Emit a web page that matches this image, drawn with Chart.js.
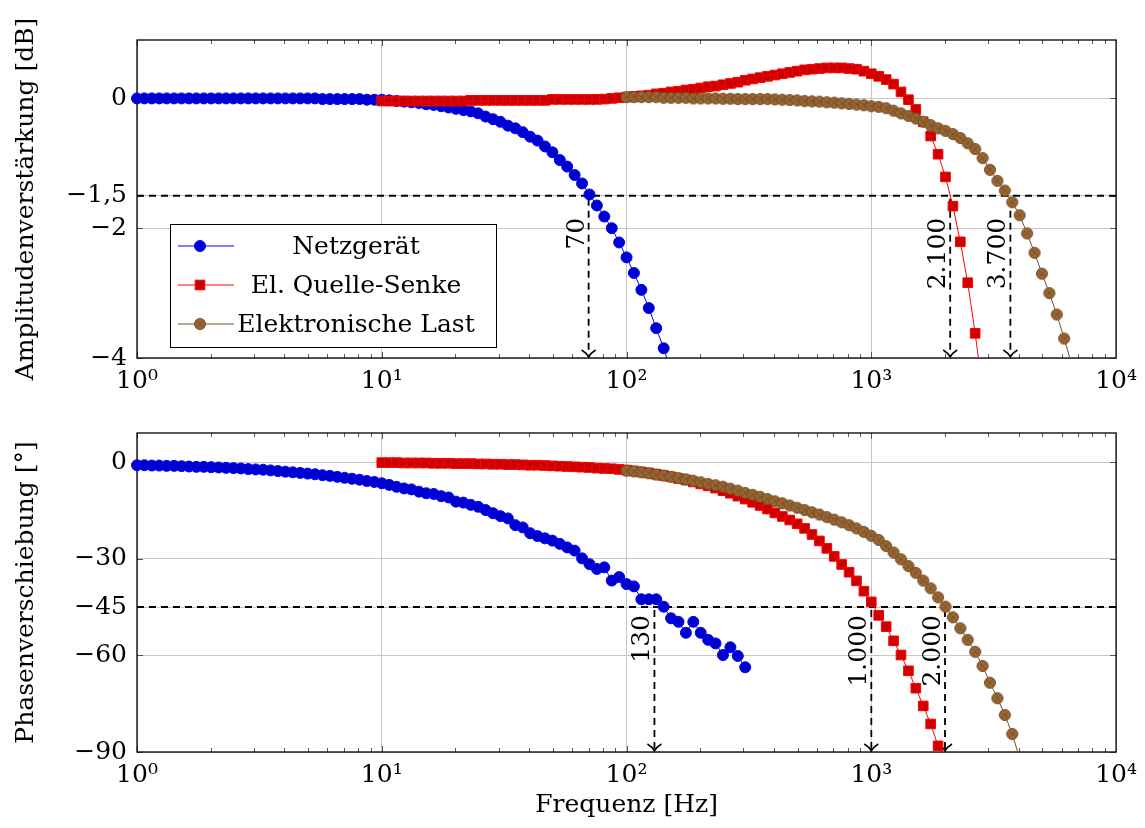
<!DOCTYPE html>
<html>
<head>
<meta charset="utf-8">
<script src="https://cdn.jsdelivr.net/npm/chart.js@4.4.1/dist/chart.umd.min.js"></script>
<style>
html, body { margin: 0; padding: 0; background: #fff; }
#wrap { position: relative; width: 1145px; height: 828px; }
canvas { position: absolute; left: 0; top: 0; }
</style>
</head>
<body>
<div id="wrap">
  <canvas id="amp" width="1145" height="828"></canvas>
  <canvas id="phase" width="1145" height="828"></canvas>
</div>
<script>
// frequencies [Hz]
const blueFreq = [1.000, 1.072, 1.150, 1.233, 1.322, 1.418, 1.520, 1.630, 1.748, 1.874, 2.009, 2.155, 2.310, 2.477, 2.656, 2.848, 3.054, 3.275, 3.512, 3.765, 4.038, 4.329, 4.642, 4.978, 5.338, 5.723, 6.137, 6.581, 7.056, 7.566, 8.113, 8.699, 9.328,
  10.00, 10.72, 11.50, 12.33, 13.22, 14.18, 15.20, 16.30, 17.48, 18.74, 20.09, 21.55, 23.10, 24.77, 26.56, 28.48, 30.54, 32.75, 35.12, 37.65, 40.38, 43.29, 46.42, 49.78, 53.38, 57.23, 61.37, 65.81, 70.56, 75.66, 81.13, 86.99, 93.28,
  100.0, 107.2, 115.0, 123.3, 132.2, 141.8, 152.0, 163.0, 174.8, 187.4, 200.9, 215.5, 231.0, 247.7, 265.6, 284.8, 305.4];
const redFreq = [10.00, 10.72, 11.50, 12.33, 13.22, 14.18, 15.20, 16.30, 17.48, 18.74, 20.09, 21.55, 23.10, 24.77, 26.56, 28.48, 30.54, 32.75, 35.12, 37.65, 40.38, 43.29, 46.42, 49.78, 53.38, 57.23, 61.37, 65.81, 70.56, 75.66, 81.13, 86.99, 93.28,
  100.0, 107.2, 115.0, 123.3, 132.2, 141.8, 152.0, 163.0, 174.8, 187.4, 200.9, 215.5, 231.0, 247.7, 265.6, 284.8, 305.4, 327.5, 351.2, 376.5, 403.8, 432.9, 464.2, 497.8, 533.8, 572.3, 613.7, 658.1, 705.6, 756.6, 811.3, 869.9, 932.8,
  1000, 1072, 1150, 1233, 1322, 1418, 1520, 1630, 1748, 1874, 2009, 2155, 2310, 2477, 2656, 2848];
const brownFreq = [100.0, 107.2, 115.0, 123.3, 132.2, 141.8, 152.0, 163.0, 174.8, 187.4, 200.9, 215.5, 231.0, 247.7, 265.6, 284.8, 305.4, 327.5, 351.2, 376.5, 403.8, 432.9, 464.2, 497.8, 533.8, 572.3, 613.7, 658.1, 705.6, 756.6, 811.3, 869.9, 932.8,
  1000, 1072, 1150, 1233, 1322, 1418, 1520, 1630, 1748, 1874, 2009, 2155, 2310, 2477, 2656, 2848, 3054, 3275, 3512, 3765, 4038, 4329, 4642, 4978, 5338, 5723, 6137, 6581];

// Amplitudenverstärkung [dB]
const blueAmp = [0, 0, 0, 0, 0, 0, 0, 0, 0, 0, 0, 0, 0, 0, 0, 0, 0, 0, 0, 0, 0,
  0, 0, 0, 0, -0.01, -0.01, -0.01, -0.01, -0.01, -0.01, -0.02, -0.02,
  -0.02, -0.03, -0.04, -0.05, -0.06, -0.07, -0.09, -0.10, -0.12, -0.14, -0.16, -0.18, -0.20,
  -0.23, -0.28, -0.32, -0.36, -0.42, -0.46, -0.52, -0.59, -0.65, -0.74, -0.83, -0.95, -1.05, -1.18, -1.31, -1.48, -1.65, -1.82, -2.00, -2.22, -2.45, -2.69, -2.95, -3.23, -3.54, -3.85, -4.20];
const redAmp = [-0.04, -0.04, -0.04, -0.04, -0.04, -0.04, -0.04, -0.04, -0.04, -0.04, -0.04, -0.04,
  -0.03, -0.03, -0.03, -0.03, -0.03, -0.03, -0.03, -0.03, -0.03, -0.03, -0.03,
  -0.015, -0.015, -0.015, -0.015, -0.015, -0.015, -0.015, -0.01, 0.0, 0.01,
  0.02, 0.03, 0.04, 0.05, 0.07, 0.08, 0.10, 0.11, 0.13, 0.14, 0.16, 0.18, 0.19, 0.21, 0.23, 0.25, 0.28, 0.30, 0.32, 0.34, 0.36, 0.38, 0.40, 0.42, 0.44, 0.45, 0.46, 0.47, 0.47, 0.47, 0.46, 0.45, 0.42,
  0.38, 0.34, 0.29, 0.22, 0.10, -0.02, -0.17, -0.36, -0.58, -0.86, -1.21, -1.66, -2.21, -2.84, -3.62, -4.50];
const brownAmp = [0.02, 0.02, 0.02, 0.02, 0.02, 0.01, 0.01, 0.01, 0.01, 0.0, 0.0, 0.0,
  0.0, -0.005, -0.005, -0.01, -0.01, -0.01, -0.01, -0.01,
  -0.015, -0.02, -0.025, -0.03, -0.04, -0.045, -0.05, -0.06, -0.065, -0.075, -0.085, -0.095, -0.105,
  -0.12, -0.13, -0.15, -0.19, -0.23, -0.27, -0.31, -0.36, -0.41, -0.46, -0.50, -0.55, -0.61, -0.69, -0.78, -0.92, -1.10, -1.27, -1.42, -1.60, -1.80, -2.08, -2.38, -2.70, -3.00, -3.33, -3.70, -4.10];

// Phasenverschiebung [°]
const bluePhase = [-1.0, -1.0, -1.1, -1.1, -1.2, -1.2, -1.3, -1.4, -1.5, -1.5, -1.6, -1.7, -1.8, -1.9, -2.0, -2.2, -2.3, -2.4, -2.6, -2.8, -3.0, -3.2, -3.4, -3.6, -3.8, -4.1, -4.3, -4.6, -4.9, -5.2, -5.5, -5.9, -6.2,
  -6.6, -7.1, -7.7, -8.2, -8.5, -9.2, -9.7, -9.9, -10.6, -11.0, -12.3, -12.6, -13.3, -13.9, -14.9, -15.9, -16.8, -17.5, -19.6, -20.3, -22.1, -23.0, -23.7, -24.4, -25.4, -26.5, -27.5, -29.9, -31.7, -33.2, -32.7,
  -36.8, -35.7, -37.9, -38.6, -42.6, -42.6, -42.6, -44.9, -48.5, -49.6, -53.0, -49.6, -53.0, -55.2, -56.3, -59.9, -57.5, -60.2, -63.7];
const redPhase = [-0.2, -0.2, -0.2, -0.3, -0.3, -0.3, -0.3, -0.4, -0.4, -0.4, -0.5, -0.5, -0.5, -0.6, -0.6, -0.7, -0.7, -0.8, -0.8, -0.9, -1.0, -1.0, -1.1, -1.2, -1.3, -1.4, -1.5, -1.6, -1.7, -1.9, -2.0, -2.1, -2.3,
  -2.5, -2.8, -3.1, -3.4, -3.8, -4.2, -4.6, -5.1, -5.6, -6.2, -6.8, -7.4, -8.1, -8.9, -9.7, -10.6, -11.5, -12.5, -13.5, -14.6, -15.8, -16.9, -18.0, -19.2, -20.6, -22.5, -24.5, -26.8, -29.3, -31.8, -34.2, -36.9, -40.1,
  -43.4, -47.6, -51.1, -55.5, -59.9, -64.8, -70.2, -75.7, -81.3, -88.1, -95.0];
const brownPhase = [-2.7, -2.9, -3.2, -3.5, -3.9, -4.2, -4.6, -5.0, -5.4, -5.8, -6.3, -6.8, -7.2, -7.7, -8.3, -8.9, -9.6, -10.2, -10.8, -11.5, -12.2, -12.8, -13.5, -14.2, -14.9, -15.6, -16.3, -17.1, -17.9, -18.7, -19.6, -20.6, -21.7,
  -22.9, -24.2, -26.1, -28.1, -30.2, -32.3, -34.4, -36.8, -39.2, -42.0, -44.9, -48.2, -51.6, -55.2, -58.9, -63.3, -68.5, -73.3, -78.5, -84.4, -92.0];

const seriesNames = ['Netzgerät', 'El. Quelle-Senke', 'Elektronische Last'];

// axes
const xTicks = [1, 10, 100, 1000, 10000];
const xTickLabels = ['10⁰', '10¹', '10²', '10³', '10⁴'];
const ampTicks = [-4, -2, -1.5, 0];
const ampTickLabels = ['−4', '−2', '−1,5', '0'];
const phaseTicks = [-90, -60, -45, -30, 0];
const phaseTickLabels = ['−90', '−60', '−45', '−30', '0'];

// markierte Grenzfrequenzen
const ampLevel = -1.5;
const ampCutoffs = [70, 2100, 3700];
const ampCutoffLabels = ['70', '2.100', '3.700'];
const phaseLevel = -45;
const phaseCutoffs = [130, 1000, 2000];
const phaseCutoffLabels = ['130', '1.000', '2.000'];

const FONT = '"DejaVu Serif", serif';
Chart.defaults.font.family = FONT;
Chart.defaults.font.size = 25;
Chart.defaults.color = '#000';

const gridColor = '#c6c6c6';
const blueLine = '#0000ff', blueFill = '#0000cc';
const redLine = '#ff0000', redFill = '#cc0000';
const brownLine = '#734d26', brownFill = '#996633';

function makeOtimes(r, fill, stroke) {
    const c = document.createElement('canvas');
    const s = 2 * r + 3;
    c.width = s; c.height = s;
    const g = c.getContext('2d');
    const m = s / 2;
    g.beginPath();
    g.arc(m, m, r, 0, 2 * Math.PI);
    g.fillStyle = fill;
    g.fill();
    g.lineWidth = 1;
    g.strokeStyle = stroke;
    g.stroke();
    const d = r * Math.SQRT1_2;
    g.beginPath();
    g.moveTo(m - d, m - d); g.lineTo(m + d, m + d);
    g.moveTo(m + d, m - d); g.lineTo(m - d, m + d);
    g.lineWidth = 0.8;
    g.stroke();
    return c;
}
const brownMark = makeOtimes(5.5, brownFill, brownLine);

const pts = (fs, vs) => vs.map((v, i) => ({ x: fs[i], y: v }));
const vClip = { left: false, right: false, top: 0, bottom: 0 };

function makeDatasets(blue, red, brown) {
    return [
        { label: seriesNames[0], data: pts(blueFreq, blue), borderColor: blueLine, borderWidth: 1,
          pointStyle: 'circle', pointRadius: 5.5, pointBackgroundColor: blueFill, pointBorderColor: blueLine,
          pointBorderWidth: 1, clip: vClip, order: 3 },
        { label: seriesNames[1], data: pts(redFreq, red), borderColor: redLine, borderWidth: 1,
          pointStyle: 'rect', pointRadius: 6.8, pointBackgroundColor: redFill, pointBorderColor: redLine,
          pointBorderWidth: 1, clip: vClip, order: 2 },
        { label: seriesNames[2], data: pts(brownFreq, brown), borderColor: brownLine, borderWidth: 1,
          pointStyle: brownMark, pointRadius: 5.5, clip: vClip, order: 1 }
    ];
}

function xScale(title, height) {
    return {
        type: 'logarithmic', min: 1, max: 10000,
        afterBuildTicks: s => { s.ticks = xTicks.map(v => ({ value: v })); },
        afterFit: s => { s.height = height; },
        ticks: { autoSkip: false, maxRotation: 0, padding: 8, callback: (v, i) => xTickLabels[i] },
        grid: { color: gridColor, lineWidth: 1, drawTicks: false },
        border: { display: false },
        title: { display: !!title, text: title || '', padding: { top: 0, bottom: 8 } }
    };
}

function yScale(min, max, ticks, labels, title) {
    return {
        type: 'linear', min: min, max: max,
        afterBuildTicks: s => { s.ticks = ticks.map(v => ({ value: v })); },
        afterFit: s => { s.width = 137; },
        ticks: { padding: 10, callback: (v, i) => labels[i] },
        grid: { color: gridColor, lineWidth: 1, drawTicks: false },
        border: { display: false },
        title: { display: true, text: title, padding: { top: 11, bottom: 0 } }
    };
}

// Rahmen und Teilstriche wie bei pgfplots
const axisFrame = {
    id: 'axisFrame',
    beforeDatasetsDraw(chart) {
        const { ctx, chartArea: a, scales: { x, y } } = chart;
        ctx.save();
        ctx.strokeStyle = '#555';
        ctx.lineWidth = 1;
        ctx.beginPath();
        for (let d = 1; d < 10000; d *= 10) {
            for (let m = 1; m < 10; m++) {
                const px = Math.round(x.getPixelForValue(d * m)) + 0.5;
                const len = m === 1 ? 6 : 4;
                ctx.moveTo(px, a.bottom); ctx.lineTo(px, a.bottom - len);
                ctx.moveTo(px, a.top); ctx.lineTo(px, a.top + len);
            }
        }
        y.ticks.forEach(t => {
            const py = Math.round(y.getPixelForValue(t.value)) + 0.5;
            ctx.moveTo(a.left, py); ctx.lineTo(a.left + 6, py);
            ctx.moveTo(a.right, py); ctx.lineTo(a.right - 6, py);
        });
        ctx.stroke();
        ctx.strokeStyle = '#000';
        ctx.lineWidth = 1.3;
        ctx.strokeRect(a.left, a.top, a.right - a.left, a.bottom - a.top);
        ctx.restore();
    }
};

// gestrichelte Hilfslinien mit Frequenzangabe
const refLines = {
    id: 'refLines',
    beforeDatasetsDraw(chart, args, o) {
        if (!o || !o.freqs) return;
        const { ctx, chartArea: a, scales: { x, y } } = chart;
        const py = y.getPixelForValue(o.level);
        ctx.save();
        ctx.strokeStyle = '#000';
        ctx.lineWidth = 1.8;
        ctx.setLineDash([7, 5]);
        ctx.beginPath();
        ctx.moveTo(a.left, py); ctx.lineTo(a.right, py);
        ctx.stroke();
        o.freqs.forEach((f, i) => {
            const px = x.getPixelForValue(f);
            ctx.setLineDash([7, 5]);
            ctx.lineWidth = 1.8;
            ctx.beginPath();
            ctx.moveTo(px, py + 3); ctx.lineTo(px, a.bottom - 2);
            ctx.stroke();
            ctx.setLineDash([]);
            ctx.lineWidth = 1.5;
            ctx.beginPath();
            ctx.moveTo(px - 7, a.bottom - 8);
            ctx.quadraticCurveTo(px - 2, a.bottom - 5, px, a.bottom - 1);
            ctx.quadraticCurveTo(px + 2, a.bottom - 5, px + 7, a.bottom - 8);
            ctx.stroke();
            ctx.save();
            ctx.translate(px - 5, py + o.textOffset);
            ctx.rotate(-Math.PI / 2);
            ctx.textAlign = 'right';
            ctx.textBaseline = 'alphabetic';
            ctx.fillStyle = '#000';
            ctx.font = '25px ' + FONT;
            ctx.fillText(o.labels[i], 0, 0);
            ctx.restore();
        });
        ctx.restore();
    }
};

// Legende im Diagramm
const boxLegend = {
    id: 'boxLegend',
    afterDatasetsDraw(chart, args, o) {
        if (!o || !o.show) return;
        const { ctx } = chart;
        const bx = 170, by = 224, bw = 326, bh = 123;
        ctx.save();
        ctx.fillStyle = '#fff';
        ctx.fillRect(bx, by, bw, bh);
        ctx.strokeStyle = '#000';
        ctx.lineWidth = 1;
        ctx.strokeRect(bx + 0.5, by + 0.5, bw, bh);
        chart.data.datasets.forEach((ds, i) => {
            const ry = by + 22 + i * 39;
            const mx = bx + 30;
            ctx.strokeStyle = ds.borderColor;
            ctx.lineWidth = 1;
            ctx.beginPath();
            ctx.moveTo(bx + 8, ry); ctx.lineTo(bx + 64, ry);
            ctx.stroke();
            if (ds.pointStyle === 'circle') {
                ctx.beginPath();
                ctx.arc(mx, ry, 5.5, 0, 2 * Math.PI);
                ctx.fillStyle = ds.pointBackgroundColor;
                ctx.fill();
                ctx.strokeStyle = ds.pointBorderColor;
                ctx.stroke();
            } else if (ds.pointStyle === 'rect') {
                ctx.fillStyle = ds.pointBackgroundColor;
                ctx.fillRect(mx - 4.8, ry - 4.8, 9.6, 9.6);
                ctx.strokeStyle = ds.pointBorderColor;
                ctx.strokeRect(mx - 4.8, ry - 4.8, 9.6, 9.6);
            } else {
                ctx.drawImage(ds.pointStyle, mx - ds.pointStyle.width / 2, ry - ds.pointStyle.height / 2);
            }
            ctx.fillStyle = '#000';
            ctx.font = '25px ' + FONT;
            ctx.textAlign = 'center';
            ctx.textBaseline = 'middle';
            ctx.fillText(ds.label, bx + 186, ry + 1);
        });
        ctx.restore();
    }
};

const baseOptions = {
    responsive: false,
    animation: false,
    events: [],
    devicePixelRatio: 1
};

new Chart(document.getElementById('amp'), {
    type: 'line',
    data: { datasets: makeDatasets(blueAmp, redAmp, brownAmp) },
    options: Object.assign({}, baseOptions, {
        layout: { padding: { left: 0, top: 40, right: 27, bottom: 420 } },
        scales: {
            x: xScale(null, 50),
            y: yScale(-4, 0.9, ampTicks, ampTickLabels, 'Amplitudenverstärkung [dB]')
        },
        plugins: {
            legend: { display: false },
            tooltip: { enabled: false },
            refLines: { level: ampLevel, freqs: ampCutoffs, labels: ampCutoffLabels, textOffset: 22 },
            boxLegend: { show: true }
        }
    }),
    plugins: [axisFrame, refLines, boxLegend]
});

new Chart(document.getElementById('phase'), {
    type: 'line',
    data: { datasets: makeDatasets(bluePhase, redPhase, brownPhase) },
    options: Object.assign({}, baseOptions, {
        layout: { padding: { left: 0, top: 433, right: 27, bottom: 0 } },
        scales: {
            x: xScale('Frequenz [Hz]', 76),
            y: yScale(-90, 9, phaseTicks, phaseTickLabels, 'Phasenverschiebung [°]')
        },
        plugins: {
            legend: { display: false },
            tooltip: { enabled: false },
            refLines: { level: phaseLevel, freqs: phaseCutoffs, labels: phaseCutoffLabels, textOffset: 8 },
            boxLegend: { show: false }
        }
    }),
    plugins: [axisFrame, refLines, boxLegend]
});
</script>
</body>
</html>
